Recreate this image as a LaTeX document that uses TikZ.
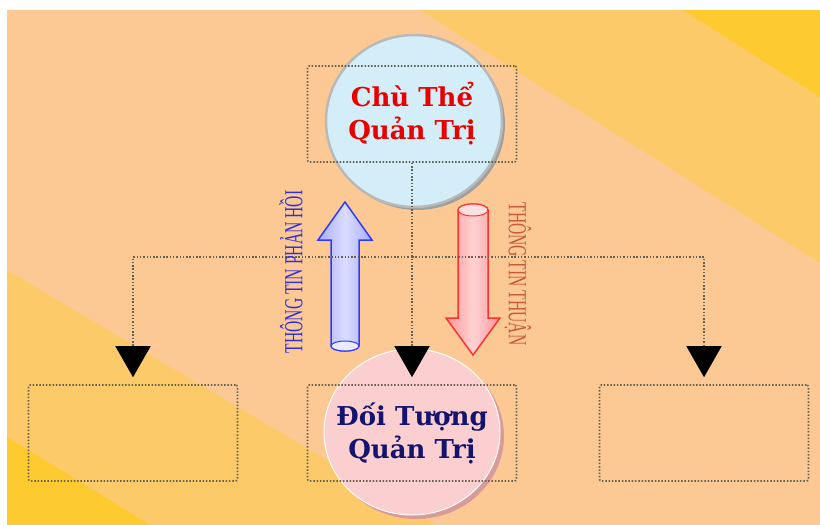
\documentclass[tikz,border=0pt]{standalone}
\usepackage{fontspec}
\usetikzlibrary{positioning,arrows.meta,shapes.geometric,shadows}
\setmainfont{DejaVu Serif}
\newfontfamily\slimfont[FakeStretch=0.6]{Liberation Serif}
\definecolor{peach}{HTML}{FCC995}
\definecolor{sand}{HTML}{FDCA6A}
\definecolor{gold}{HTML}{FDCB30}
\definecolor{skyfill}{HTML}{D3EEF9}
\definecolor{rosefill}{HTML}{FBCFCF}
\definecolor{roseshade}{HTML}{D99A9A}
\definecolor{dotgray}{HTML}{66624F}
\definecolor{navy}{HTML}{14146E}
\definecolor{titlered}{HTML}{E80000}
\definecolor{feedblue}{HTML}{3030D8}
\definecolor{flowbrown}{HTML}{C85A38}
\definecolor{tubeblue}{HTML}{2E3BFF}
\definecolor{tubered}{HTML}{FF3030}

\begin{document}
\begin{tikzpicture}[x=1pt, y=-1pt,
  box/.style={draw=dotgray, line width=1.6pt, dash pattern=on 1.5pt off 1.8pt, rounded corners=2pt, minimum width=209pt, minimum height=96pt, align=center, font=\fontsize{26}{33}\selectfont\bfseries},
  bubble/.style={ellipse, minimum width=176pt, minimum height=168pt, inner sep=0pt},
  link/.style={draw=dotgray, line width=1.6pt, dash pattern=on 1.5pt off 1.8pt, shorten >=7pt, -{Triangle[width=35pt, length=31pt, color=black]}},
  sidelab/.style={font=\slimfont\fontsize{26}{26}\selectfont, inner sep=0pt},
]
\useasboundingbox[fill=white] (0,0) rectangle (820,525);
% background bands
\fill[peach] (7,10) rectangle (820,525);
\fill[sand] (420,10) -- (820,10) -- (820,263) -- cycle;
\fill[gold] (683,10) -- (820,10) -- (820,97) -- cycle;
\fill[sand] (7,270) -- (436,525) -- (7,525) -- cycle;
\fill[gold] (7,437) -- (150,525) -- (7,525) -- cycle;

\node[bubble, minimum height=172pt, fill=skyfill, draw=gray!55, line width=2.5pt,
  drop shadow={shadow xshift=3pt, shadow yshift=-3pt, fill=gray!75, opacity=1}] (chuE) at (414,121) {};
\node[bubble, minimum height=166pt, fill=rosefill, draw=white, line width=1pt,
  drop shadow={shadow xshift=4pt, shadow yshift=-4pt, fill=roseshade, opacity=1}] (doiE) at (412,432) {};

% tubes
\shadedraw[draw=tubeblue, line width=1.5pt, left color=tubeblue!42, right color=tubeblue!42, middle color=tubeblue!18]
  (331,346) -- (331,240) -- (318,240) -- (345,202) -- (372,240) -- (359,240) -- (359,346)
  arc[start angle=0, end angle=180, x radius=14, y radius=5] -- cycle;
\draw[tubeblue, fill=tubeblue!10, line width=1pt] (345,346) ellipse [x radius=14, y radius=5];
\shadedraw[draw=tubered, line width=1.5pt, left color=tubered!50, right color=tubered!50, middle color=tubered!22]
  (458,210) -- (458,318) -- (446,318) -- (473,355) -- (500,318) -- (488,318) -- (488,210)
  arc[start angle=0, end angle=-180, x radius=15, y radius=6] -- cycle;
\draw[tubered, fill=tubered!15, line width=1pt] (473,210) ellipse [x radius=15, y radius=6];

\node[box, text=titlered] (chu) at (412,114) {Chù Thể\\Quản Trị};
\node[box] (lbox) at (133,433) {};
\node[box, text=navy] (doi) at (412,433) {Đối Tượng\\Quản Trị};
\node[box] (rbox) at (704,433) {};

\coordinate (bus) at (412,257);
\draw[link] (chu.south) -- (doi.north);
\draw[link] (bus) -| (lbox.north);
\draw[link] (bus) -| (rbox.north);

\node[sidelab, text=feedblue, rotate=90] (phanhoi) at (291,272) {THÔNG TIN PHẢN HỒI};
\node[sidelab, text=flowbrown, rotate=-90] (thuan) at (518,274) {THÔNG TIN THUẬN};
\end{tikzpicture}
\end{document}
